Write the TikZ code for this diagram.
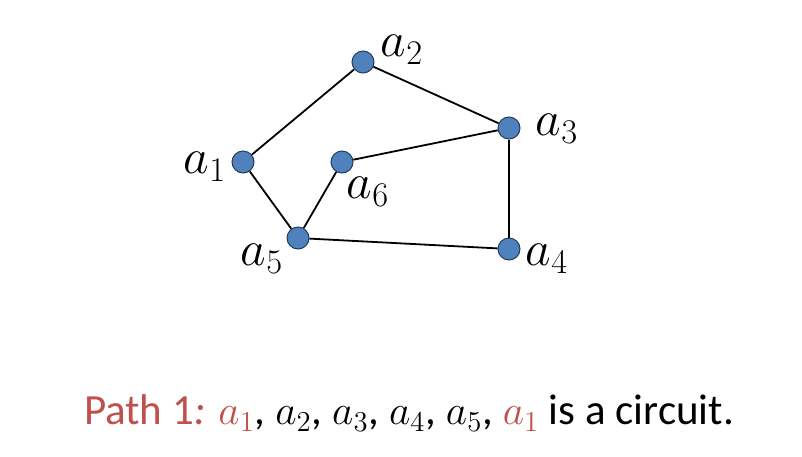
\documentclass[tikz,border=0pt]{standalone}
\usepackage{amsmath,amssymb}
\usepackage{fontspec}
\setmainfont{Carlito}
\usetikzlibrary{positioning}
\definecolor{sommet}{RGB}{79,129,189}
\definecolor{bordsommet}{RGB}{40,60,90}
\definecolor{rougepath}{RGB}{192,80,77}

\begin{document}
\begin{tikzpicture}[x=0.5pt, y=-0.5pt,
  vertex/.style={circle, fill=sommet, draw=bordsommet, line width=0.5pt, minimum size=11pt, inner sep=0pt},
  lab/.style={inner sep=0pt, font=\fontsize{23}{28}\selectfont},
  line width=0.9pt]
  \useasboundingbox (0,0) rectangle (802,456);

  \node[vertex] (a1) at (243,162) {};
  \node[vertex] (a2) at (363,62) {};
  \node[vertex] (a3) at (509,128) {};
  \node[vertex] (a4) at (509,249) {};
  \node[vertex] (a5) at (298,238) {};
  \node[vertex] (a6) at (342,162) {};

  \node[lab] (l1) at (205,167) {$a_1$};
  \node[lab] (l2) at (402,50) {$a_2$};
  \node[lab] (l3) at (557,129) {$a_3$};
  \node[lab] (l4) at (547,259) {$a_4$};
  \node[lab] (l5) at (262,259) {$a_5$};
  \node[lab] (l6) at (368,192) {$a_6$};

  % Arêtes entre les sommets
  \path (a1) edge (a2);
  \path (a2) edge (a3);
  \path (a3) edge (a4);
  \path (a4) edge (a5);
  \path (a5) edge (a1);
  \path (a5) edge (a6);
  \path (a6) edge (a3);

  \node[font=\fontsize{21.5}{26}\selectfont, inner sep=0pt] (cap) at (409,413)
    {\textcolor{rougepath}{Path 1\textit{:} $a_1$}, $a_2$, $a_3$, $a_4$, $a_5$, \textcolor{rougepath}{$a_1$} is a circuit.};
\end{tikzpicture}
\end{document}
